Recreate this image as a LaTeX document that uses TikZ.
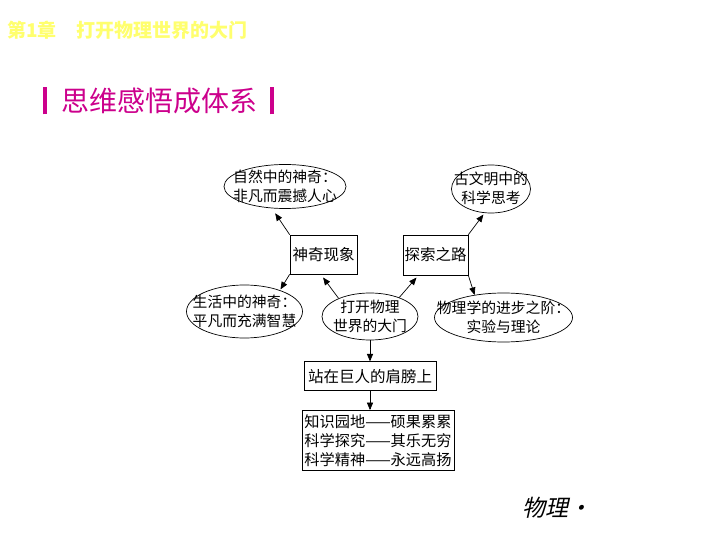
\documentclass[tikz,border=0pt]{standalone}
\usepackage{fontspec}
\setmainfont{Noto Sans CJK SC}
\newfontfamily\slantfont[FakeSlant=0.22]{Noto Sans CJK SC}
\usetikzlibrary{arrows,shapes,positioning}
\definecolor{titleyellow}{RGB}{255,255,110}
\definecolor{headmagenta}{RGB}{204,0,140}
\newcommand{\ovaltext}[1]{\makebox[0pt]{\raisebox{-5pt}[0pt][0pt]{\begin{tabular}{@{}c@{}}#1\end{tabular}}}}
\tikzset{
  box/.style={draw, rectangle, line width=0.7pt, inner sep=0pt, font=\fontsize{15.5}{19}\selectfont},
  oval/.style={draw, ellipse, line width=0.7pt, inner sep=0pt, font=\fontsize{14.8}{19}\selectfont},
  link/.style={-triangle 45, line width=0.7pt}
}

\begin{document}
\begin{tikzpicture}[x=1pt, y=-1pt, node distance=20pt]
  \useasboundingbox (0,0) rectangle (720,540);
  \node (chapter) [anchor=west, inner sep=0pt, text=titleyellow, font=\fontsize{19}{21}\selectfont\bfseries] at (7,30) {第1章\hspace{20pt}打开物理世界的大门};
  \node (heading) [anchor=west, inner sep=0pt, text=headmagenta, font=\fontsize{28}{30}\selectfont] at (43,101) {\rule[-3pt]{4pt}{27pt}\hspace{14pt}思维感悟成体系\hspace{13pt}\rule[-3pt]{4pt}{27pt}};

  \node[oval, minimum width=122pt, minimum height=44pt] (ziran) at (285,186.5) {\ovaltext{自然中的神奇：\\非凡而震撼人心}};
  \node[oval, minimum width=79pt, minimum height=48pt] (gu) at (491,189) {\ovaltext{古文明中的\\科学思考}};
  \node[box, minimum width=67pt, minimum height=39pt] (xianxiang) at (323.5,254.5) {神奇现象};
  \node[box, minimum width=65pt, minimum height=40pt] (tansuo) at (435.5,255) {探索之路};
  \node[oval, minimum width=116pt, minimum height=53pt] (shenghuo) at (244.5,311.5) {\ovaltext{生活中的神奇：\\平凡而充满智慧}};
  \node[oval, minimum width=96pt, minimum height=47pt] (kaiqi) at (370,316.5) {\ovaltext{打开物理\\世界的大门}};
  \node[oval, minimum width=138pt, minimum height=49pt] (wuli) at (503.5,317.5) {\ovaltext{物理学的进步之阶：\\实验与理论}};
  \node[box, minimum width=132pt, minimum height=29pt] (zhanzai) [below=21pt of kaiqi] {站在巨人的肩膀上};
  \node[box, minimum width=152pt, minimum height=60pt, align=left, font=\fontsize{15.2}{19}\selectfont] (motto) [below=19pt of zhanzai, xshift=8pt] {知识园地——硕果累累\\科学探究——其乐无穷\\科学精神——永远高扬};

  \path[link, shorten >=6pt] (xianxiang.north west) edge (ziran.-121);
  \path[link, shorten >=1pt] (xianxiang.south west) edge (shenghuo.31);
  \path[link, shorten >=2pt] (tansuo.north east) edge (gu.-105);
  \path[link] (tansuo.south east) edge (wuli.142);
  \path[link, shorten >=4pt] (kaiqi.150) edge (xianxiang.-98);
  \path[link, shorten >=3pt] (kaiqi.33) edge (tansuo.-130);
  \path[link] (kaiqi) edge (zhanzai)
        (zhanzai.south) edge (zhanzai.south |- motto.north);

  \node (subject) [anchor=west, inner sep=0pt, font=\fontsize{23}{25}\selectfont\slantfont] at (522,508) {物理·};
\end{tikzpicture}
\end{document}
